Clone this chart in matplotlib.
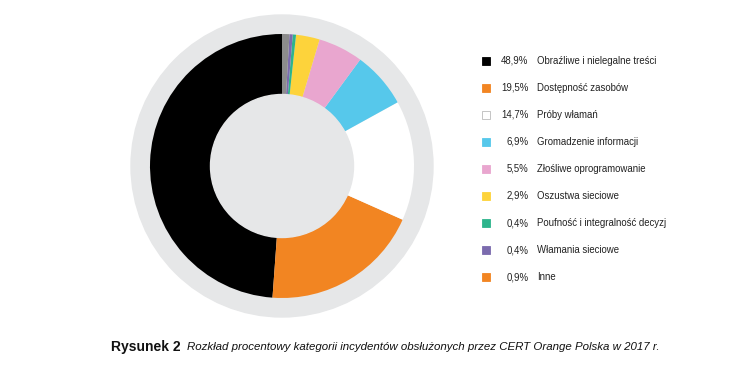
import matplotlib
matplotlib.use("Agg")
from matplotlib import pyplot as plt
from matplotlib.patches import Circle, Rectangle

# dane z wykresu
kategorie = ["Obraźliwe i nielegalne treści", "Dostępność zasobów", "Próby włamań",
             "Gromadzenie informacji", "Złośliwe oprogramowanie", "Oszustwa sieciowe",
             "Poufność i integralność decyzj", "Włamania sieciowe", "Inne"]
procenty = [48.9, 19.5, 14.7, 6.9, 5.5, 2.9, 0.4, 0.4, 0.9]
etykiety = ["48,9%", "19,5%", "14,7%", "6,9%", "5,5%", "2,9%", "0,4%", "0,4%", "0,9%"]
kolory_pie = ["#000000", "#F28522", "#FFFFFF", "#56C8EB", "#E9A6CF", "#FDD33B",
              "#2DB48C", "#7B6BAE", "#8C8C8C"]
kolory_leg = ["#000000", "#F28522", "#FFFFFF", "#56C8EB", "#E9A6CF", "#FDD33B",
              "#2DB48C", "#7B6BAE", "#F28522"]

plt.rcParams['font.family'] = ['Liberation Sans', 'DejaVu Sans']

W, H = 750, 372
fig = plt.figure(figsize=(W / 100, H / 100), dpi=100)

# os kola w pikselach
cx, cy = 282, H - 166
ax = fig.add_axes([(cx - 160) / W, (cy - 160) / H, 320 / W, 320 / H])

szary = "#E6E7E8"
ax.add_patch(Circle((0, 0), 151, color=szary, zorder=0))
ax.pie(procenty, colors=kolory_pie, startangle=90, radius=132,
       wedgeprops=dict(width=61, linewidth=0), center=(0, 0), frame=True)
ax.add_patch(Circle((0, 0), 71.5, color=szary, zorder=5))
ax.set_xlim(-160, 160)
ax.set_ylim(-160, 160)
ax.set_aspect("equal")
ax.axis("off")

# legenda
y0 = 60.5
dy = 27.1
for i, (kat, et, kol) in enumerate(zip(kategorie, etykiety, kolory_leg)):
    y = H - (y0 + i * dy)
    ec = "#BBBBBB" if kol == "#FFFFFF" else kol
    fig.patches.append(Rectangle((482 / W, (y - 4) / H), 8 / W, 8 / H,
                                 facecolor=kol, edgecolor=ec, linewidth=0.6,
                                 transform=fig.transFigure, figure=fig))
    fig.text(528.5 / W, y / H, et, ha="right", va="center", fontsize=6.9, color="#222222")
    fig.text(537 / W, y / H, kat, ha="left", va="center", fontsize=6.9, color="#222222")

# podpis
fig.text(111 / W, (H - 347) / H, "Rysunek 2", ha="left", va="center",
         fontsize=10, fontweight="bold", color="#111111")
fig.text(187 / W, (H - 347) / H,
         "Rozkład procentowy kategorii incydentów obsłużonych przez CERT Orange Polska w 2017 r.",
         ha="left", va="center", fontsize=8.25, fontstyle="italic", color="#111111")

fig.savefig("out.png", dpi=100)
